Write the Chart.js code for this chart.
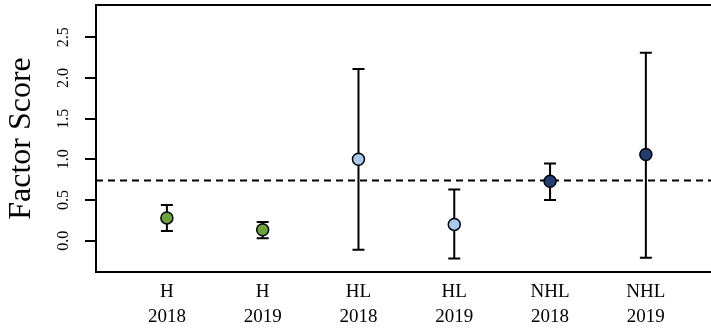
<!DOCTYPE html>
<html>
<head>
<meta charset="utf-8">
<script src="https://cdn.jsdelivr.net/npm/chart.js@4/dist/chart.umd.min.js"></script>
<style>
  body { margin: 0; background: #fff; }
  canvas { display: block; }
</style>
</head>
<body>
<canvas id="chart" width="711" height="328"></canvas>
<script>
// values
var groups = ['H', 'H', 'HL', 'HL', 'NHL', 'NHL'];
var years = ['2018', '2019', '2018', '2019', '2018', '2019'];
var positions = [1, 2, 3, 4, 5, 6];
var scores = [0.28, 0.135, 1.0, 0.20, 0.73, 1.06];
var lower = [0.12, 0.03, -0.11, -0.22, 0.50, -0.21];
var upper = [0.44, 0.23, 2.11, 0.63, 0.95, 2.31];
var refLine = 0.74;
var yTicks = [0, 0.5, 1, 1.5, 2, 2.5];

var groupColor = { 'H': '#6ca33d', 'HL': '#a6caec', 'NHL': '#1f3f73' };
var serif = "'Liberation Serif', 'Times New Roman', serif";

var xMin = 0.26, xMax = 6.68;

// vertical error bars with caps, drawn under the points
var errorBars = {
  id: 'errorBars',
  beforeDatasetsDraw: function(chart) {
    var ctx = chart.ctx;
    var xs = chart.scales.x, ys = chart.scales.y;
    ctx.save();
    ctx.strokeStyle = '#000';
    ctx.lineWidth = 2;
    positions.forEach(function(p, i) {
      var x = xs.getPixelForValue(p);
      var y1 = ys.getPixelForValue(lower[i]);
      var y2 = ys.getPixelForValue(upper[i]);
      ctx.beginPath();
      ctx.moveTo(x, y1); ctx.lineTo(x, y2);
      ctx.moveTo(x - 6, y1); ctx.lineTo(x + 6, y1);
      ctx.moveTo(x - 6, y2); ctx.lineTo(x + 6, y2);
      ctx.stroke();
    });
    ctx.restore();
  }
};

function noPad(scale) {
  scale.paddingTop = 0;
  scale.paddingBottom = 0;
  scale.paddingLeft = 0;
  scale.paddingRight = 0;
}

var ctx = document.getElementById('chart').getContext('2d');
new Chart(ctx, {
  type: 'scatter',
  data: {
    datasets: [{
      data: positions.map(function(p, i) { return { x: p, y: scores[i] }; }),
      pointRadius: 6,
      pointHoverRadius: 6,
      pointBackgroundColor: groups.map(function(g) { return groupColor[g]; }),
      pointBorderColor: '#000',
      pointBorderWidth: 1.5,
      order: 1
    }, {
      type: 'line',
      data: [{ x: xMin, y: refLine }, { x: xMax, y: refLine }],
      borderColor: '#000',
      borderWidth: 2,
      borderDash: [7, 5],
      pointRadius: 0,
      fill: false,
      order: 2
    }]
  },
  options: {
    responsive: false,
    animation: false,
    layout: { padding: 0, autoPadding: false },
    plugins: { legend: { display: false }, tooltip: { enabled: false } },
    scales: {
      x: {
        type: 'linear',
        position: 'bottom',
        min: xMin,
        max: xMax,
        afterBuildTicks: function(scale) {
          scale.ticks = positions.map(function(v) { return { value: v }; });
        },
        afterFit: function(scale) { scale.height = 56; noPad(scale); },
        grid: { display: false },
        border: { display: true, color: '#000', width: 2 },
        ticks: {
          padding: -1,
          color: '#000',
          maxRotation: 0,
          autoSkip: false,
          font: { family: serif, size: 19, lineHeight: 1.35 },
          callback: function(v, i) { return [groups[i], years[i]]; }
        }
      },
      x2: {
        type: 'linear',
        position: 'top',
        min: xMin,
        max: xMax,
        afterFit: function(scale) { scale.height = 5; noPad(scale); },
        grid: { display: false },
        border: { display: true, color: '#000', width: 2 },
        ticks: { display: false }
      },
      y: {
        min: -0.385,
        max: 2.897,
        afterBuildTicks: function(scale) {
          scale.ticks = yTicks.map(function(v) { return { value: v }; });
        },
        afterFit: function(scale) { scale.width = 96; noPad(scale); },
        grid: {
          drawOnChartArea: false,
          drawTicks: true,
          tickLength: 11,
          color: '#000',
          lineWidth: 2
        },
        border: { display: true, color: '#000', width: 2 },
        ticks: {
          minRotation: 90,
          maxRotation: 90,
          crossAlign: 'center',
          padding: 11,
          color: '#000',
          font: { family: serif, size: 16 },
          callback: function(v) { return v.toFixed(1); }
        },
        title: {
          display: true,
          text: 'Factor Score',
          color: '#000',
          padding: { top: 2, bottom: 0 },
          font: { family: serif, size: 32 }
        }
      }
    }
  },
  plugins: [errorBars]
});
</script>
</body>
</html>
